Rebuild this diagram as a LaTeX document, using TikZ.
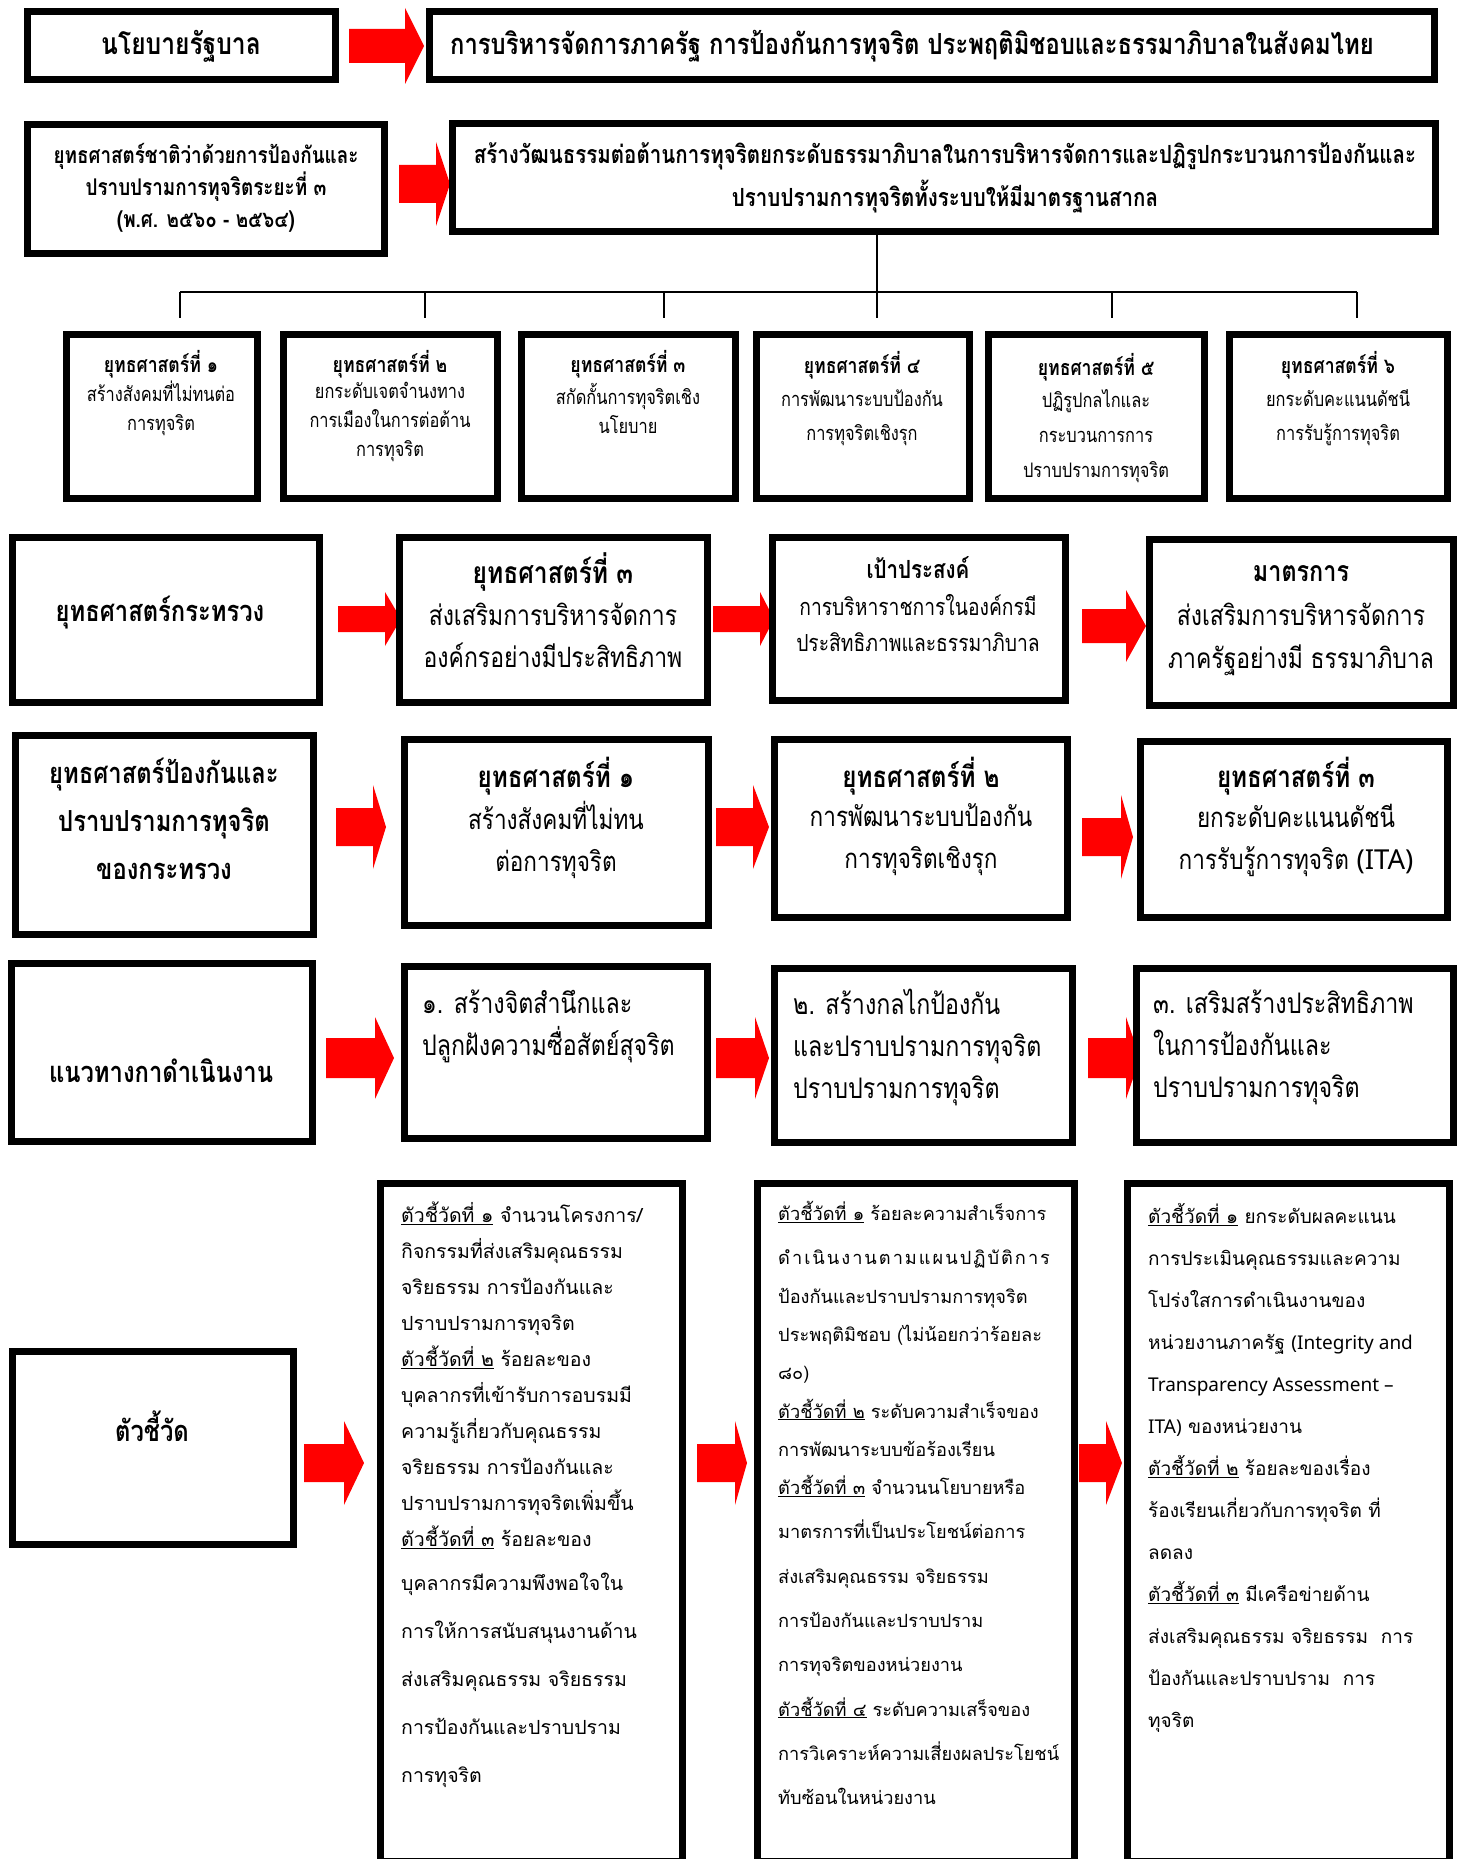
\documentclass[tikz,border=0pt]{standalone}
\usepackage{fontspec}
\newfontfamily\thaifont[Script=Thai]{Loma}
\newfontfamily\thaicond[Script=Thai,FakeStretch=0.82]{Loma}
\newfontfamily\latinfont{Noto Sans}
\usetikzlibrary{positioning}
\newcommand{\fs}[2]{\fontsize{#1}{#2}\selectfont}
\newcommand{\hdfont}{\thaicond\bfseries}
\newcommand{\bdfont}{\thaicond}
\tikzset{frame/.style={draw=black, line width=7pt, fill=white, inner sep=0pt},
  tree/.style={line width=1.5pt},
  every node/.style={inner sep=0pt}}
% box from (x1,y1) to (x2,y2), picture units are pixels of the scan
\newcommand{\pbox}[5]{%
  \node[frame, minimum width={(#4-#2-6)*1pt}, minimum height={(#5-#3-6)*1pt}]
    (#1) at ({(#2+#4)/2},{(#3+#5)/2}) {};}
% red block arrow: start, head start, tip, mid y, half shaft, half head
\newcommand{\redarrow}[6]{%
  \fill[red] (#1,{#4-#5}) -- (#2,{#4-#5}) -- (#2,{#4-#6}) -- (#3,#4)
    -- (#2,{#4+#6}) -- (#2,{#4+#5}) -- (#1,{#4+#5}) -- cycle;}

\begin{document}
\begin{tikzpicture}[x=1pt,y=-1pt]
  \useasboundingbox[fill=white] (0,0) rectangle (1463,1859);
  % row 1
  \pbox{gov}{24}{9}{338}{83}
  \node[font={\hdfont\fs{30}{34}}] (govt) at (181,46) {นโยบายรัฐบาล};
  \redarrow{349}{405}{424}{46}{17}{38}
  \pbox{pol}{426}{9}{1437}{83}
  \node[anchor=west,font={\hdfont\fs{29}{32}}] (polt) at (450,46)
    {การบริหารจัดการภาครัฐ การป้องกันการทุจริต ประพฤติมิชอบและธรรมาภิบาลในสังคมไทย};
  % row 2
  \pbox{nat}{24}{122}{387}{257}
  \node[align=center,font={\hdfont\fs{23}{32}}] (natt) at (206,188)
    {ยุทธศาสตร์ชาติว่าด้วยการป้องกันและ\\ปราบปรามการทุจริตระยะที่ ๓\\(พ.ศ. ๒๕๖๐ - ๒๕๖๔)};
  \redarrow{399}{436}{450}{184}{19}{42}
  \pbox{vis}{449}{121}{1438}{235}
  \node[align=center,font={\hdfont\fs{25}{43}}] (vist) at (945,178)
    {สร้างวัฒนธรรมต่อต้านการทุจริตยกระดับธรรมาภิบาลในการบริหารจัดการและปฏิรูปกระบวนการป้องกันและ\\ปราบปรามการทุจริตทั้งระบบให้มีมาตรฐานสากล};
  % tree
  \coordinate (trunk) at (877,292);
  \draw[tree] (vis.south -| trunk) -- (trunk);
  \draw[tree] (180,292) -- (1357,292);
  \foreach \x in {180,425,664,877,1112,1357}
    \draw[tree] (\x,292) -- (\x,318);
  % row 3
  \pbox{s1}{63}{331}{260}{501}
  \pbox{s2}{280}{331}{500}{501}
  \pbox{s3}{518}{331}{738}{501}
  \pbox{s4}{753}{331}{972}{501}
  \pbox{s5}{985}{331}{1207}{501}
  \pbox{s6}{1226}{331}{1450}{501}
  \node[font={\hdfont\fs{21.5}{28}}] (s1h) at (161,364) {ยุทธศาสตร์ที่ ๑};
  \node[align=center,font={\bdfont\fs{20}{29}}] (s1b) at (161,408) {สร้างสังคมที่ไม่ทนต่อ\\การทุจริต};
  \node[font={\hdfont\fs{21.5}{28}}] (s2h) at (390,364) {ยุทธศาสตร์ที่ ๒};
  \node[align=center,font={\bdfont\fs{20}{29}}] (s2b) at (390,422) {ยกระดับเจตจำนงทาง\\การเมืองในการต่อต้าน\\การทุจริต};
  \node[font={\hdfont\fs{21.5}{28}}] (s3h) at (628,364) {ยุทธศาสตร์ที่ ๓};
  \node[align=center,font={\bdfont\fs{20}{29}}] (s3b) at (628,408) {สกัดกั้นการทุจริตเชิง\\นโยบาย};
  \node[font={\hdfont\fs{21.5}{33}}] (s4h) at (862,365) {ยุทธศาสตร์ที่ ๔};
  \node[align=center,font={\bdfont\fs{20}{34}}] (s4b) at (862,418) {การพัฒนาระบบป้องกัน\\การทุจริตเชิงรุก};
  \node[font={\hdfont\fs{21.5}{33}}] (s5h) at (1096,367) {ยุทธศาสตร์ที่ ๕};
  \node[align=center,font={\bdfont\fs{20}{35}}] (s5b) at (1096,436) {ปฏิรูปกลไกและ\\กระบวนการการ\\ปราบปรามการทุจริต};
  \node[font={\hdfont\fs{21.5}{33}}] (s6h) at (1338,365) {ยุทธศาสตร์ที่ ๖};
  \node[align=center,font={\bdfont\fs{20}{34}}] (s6b) at (1338,418) {ยกระดับคะแนนดัชนี\\การรับรู้การทุจริต};
  % row 4
  \pbox{min}{9}{534}{322}{705}
  \node[font={\hdfont\fs{29}{32}}] (mint) at (160,613) {ยุทธศาสตร์กระทรวง};
  \redarrow{338}{385}{401}{619}{13}{27}
  \pbox{mst}{396}{534}{710}{705}
  \node[font={\hdfont\fs{30}{38}}] (msth) at (553,572) {ยุทธศาสตร์ที่ ๓};
  \node[align=center,font={\bdfont\fs{28}{42}}] (mstb) at (553,635) {ส่งเสริมการบริหารจัดการ\\องค์กรอย่างมีประสิทธิภาพ};
  \redarrow{713}{760}{774}{619}{13}{27}
  \pbox{goal}{769}{534}{1068}{703}
  \node[font={\hdfont\fs{25}{35}}] (goalh) at (918,568) {เป้าประสงค์};
  \node[align=center,font={\bdfont\fs{23.5}{36}}] (goalb) at (918,623) {การบริหาราชการในองค์กรมี\\ประสิทธิภาพและธรรมาภิบาล};
  \redarrow{1082}{1126}{1146}{626}{17}{36}
  \pbox{meas}{1146}{536}{1456}{708}
  \node[font={\hdfont\fs{28.5}{42}}] (meash) at (1301,574) {มาตรการ};
  \node[align=center,font={\bdfont\fs{28}{43}}] (measb) at (1301,639) {ส่งเสริมการบริหารจัดการ\\ภาครัฐอย่างมี ธรรมาภิบาล};
  % row 5
  \pbox{prev}{12}{732}{316}{937}
  \node[align=center,font={\hdfont\fs{29}{48}}] (prevt) at (164,819) {ยุทธศาสตร์ป้องกันและ\\ปราบปรามการทุจริต\\ของกระทรวง};
  \redarrow{336}{373}{386}{827}{19}{42}
  \pbox{pa}{401}{736}{711}{928}
  \node[font={\hdfont\fs{29.5}{40}}] (pah) at (556,776) {ยุทธศาสตร์ที่ ๑};
  \node[align=center,font={\bdfont\fs{27.5}{42}}] (pab) at (556,840) {สร้างสังคมที่ไม่ทน\\ต่อการทุจริต};
  \redarrow{716}{753}{769}{827}{19}{42}
  \pbox{pb}{771}{736}{1070}{920}
  \node[font={\hdfont\fs{29.5}{40}}] (pbh) at (921,776) {ยุทธศาสตร์ที่ ๒};
  \node[align=center,font={\bdfont\fs{27.5}{42}}] (pbb) at (921,840) {การพัฒนาระบบป้องกัน\\การทุจริตเชิงรุก};
  \redarrow{1082}{1121}{1133}{837}{19}{42}
  \pbox{pc}{1137}{738}{1450}{920}
  \node[font={\hdfont\fs{29.5}{40}}] (pch) at (1296,776) {ยุทธศาสตร์ที่ ๓};
  \node[align=center,font={\bdfont\fs{27.5}{42}}] (pcb) at (1296,840) {ยกระดับคะแนนดัชนี\\การรับรู้การทุจริต {\latinfont (ITA)}};
  % row 6
  \pbox{way}{8}{960}{315}{1144}
  \node[font={\hdfont\fs{29}{32}}] (wayt) at (161,1071) {แนวทางกาดำเนินงาน};
  \redarrow{326}{375}{394}{1058}{20}{41}
  \pbox{wa}{401}{963}{710}{1141}
  \node[anchor=west,align=left,font={\bdfont\fs{28.3}{42}}] (wat) at (422,1026) {๑. สร้างจิตสำนึกและ\\ปลูกฝังความซื่อสัตย์สุจริต};
  \redarrow{716}{755}{769}{1058}{20}{41}
  \pbox{wb}{771}{965}{1075}{1145}
  \node[anchor=west,align=left,font={\bdfont\fs{28.3}{42}}] (wbt) at (793,1047) {๒. สร้างกลไกป้องกัน\\และปราบปรามการทุจริต\\ปราบปรามการทุจริต};
  \redarrow{1088}{1126}{1140}{1058}{20}{41}
  \pbox{wc}{1133}{965}{1456}{1145}
  \node[anchor=west,align=left,font={\bdfont\fs{28.3}{42}}] (wct) at (1153,1047) {๓. เสริมสร้างประสิทธิภาพ\\ในการป้องกันและ\\ปราบปรามการทุจริต};
  % row 7
  \pbox{kpi}{9}{1348}{296}{1547}
  \node[font={\hdfont\fs{29}{32}}] (kpit) at (152,1426) {ตัวชี้วัด};
  \redarrow{304}{344}{364}{1463}{19}{42}
  \pbox{ka}{377}{1180}{685}{1864}
  \node[anchor=north west,align=left,font={\thaifont\fs{19.5}{36}}] (kat) at (401,1202)
    {\underline{ตัวชี้วัดที่ ๑} จำนวนโครงการ/\\
     กิจกรรมที่ส่งเสริมคุณธรรม\\
     จริยธรรม การป้องกันและ\\
     ปราบปรามการทุจริต\\
     \underline{ตัวชี้วัดที่ ๒} ร้อยละของ\\
     บุคลากรที่เข้ารับการอบรมมี\\
     ความรู้เกี่ยวกับคุณธรรม\\
     จริยธรรม การป้องกันและ\\
     ปราบปรามการทุจริตเพิ่มขึ้น\\
     \underline{ตัวชี้วัดที่ ๓} ร้อยละของ\\[8pt]
     บุคลากรมีความพึงพอใจใน\\[12pt]
     การให้การสนับสนุนงานด้าน\\[12pt]
     ส่งเสริมคุณธรรม จริยธรรม\\[12pt]
     การป้องกันและปราบปราม\\[12pt]
     การทุจริต};
  \redarrow{697}{735}{747}{1463}{19}{42}
  \pbox{kb}{754}{1180}{1077}{1864}
  \node[anchor=north west,align=left,font={\thaifont\fs{18.2}{38.3}}] (kbt) at (778,1201)
    {\underline{ตัวชี้วัดที่ ๑} ร้อยละความสำเร็จการ\\[6pt]
     {\addfontfeature{LetterSpace=11}ดำเนินงานตามแผนปฏิบัติการ}\\
     ป้องกันและปราบปรามการทุจริต\\
     ประพฤติมิชอบ (ไม่น้อยกว่าร้อยละ\\
     ๘๐)\\
     \underline{ตัวชี้วัดที่ ๒} ระดับความสำเร็จของ\\
     การพัฒนาระบบข้อร้องเรียน\\
     \underline{ตัวชี้วัดที่ ๓} จำนวนนโยบายหรือ\\[6pt]
     มาตรการที่เป็นประโยชน์ต่อการ\\[6pt]
     ส่งเสริมคุณธรรม จริยธรรม\\[6pt]
     การป้องกันและปราบปราม\\[6pt]
     การทุจริตของหน่วยงาน\\[6pt]
     \underline{ตัวชี้วัดที่ ๔} ระดับความเสร็จของ\\[6pt]
     การวิเคราะห์ความเสี่ยงผลประโยชน์\\[6pt]
     ทับซ้อนในหน่วยงาน};
  \redarrow{1079}{1106}{1122}{1463}{19}{42}
  \pbox{kc}{1124}{1180}{1452}{1864}
  \node[anchor=north west,align=left,font={\thaifont\fs{19}{42}}] (kct) at (1148,1203)
    {\underline{ตัวชี้วัดที่ ๑} ยกระดับผลคะแนน\\
     การประเมินคุณธรรมและความ\\
     โปร่งใสการดำเนินงานของ\\
     หน่วยงานภาครัฐ {\latinfont (Integrity and}\\
     {\latinfont Transparency Assessment –}\\
     {\latinfont ITA)} ของหน่วยงาน\\
     \underline{ตัวชี้วัดที่ ๒} ร้อยละของเรื่อง\\
     ร้องเรียนเกี่ยวกับการทุจริต ที่\\
     ลดลง\\
     \underline{ตัวชี้วัดที่ ๓} มีเครือข่ายด้าน\\
     ส่งเสริมคุณธรรม จริยธรรม~ การ\\
     ป้องกันและปราบปราม~ การ\\
     ทุจริต};
\end{tikzpicture}
\end{document}
